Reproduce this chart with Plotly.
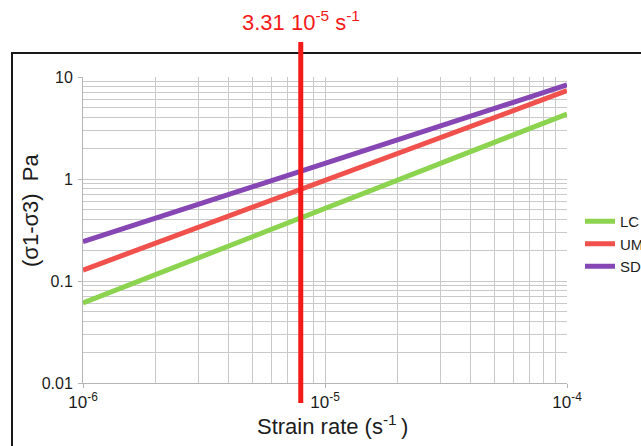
import math
import plotly.graph_objects as go

# ---- data ----
strain_rate = [1e-6, 1e-4]
series_names = ["LC", "UM", "SD"]
lc_stress = [0.061, 4.34]
um_stress = [0.128, 7.34]
sd_stress = [0.243, 8.35]
series_colors = ["#8cd44f", "#f0514c", "#8646b3"]
marker_rate = 7.94e-6           # where the vertical red line is drawn
marker_label = "3.31 10<sup>-5</sup> s<sup>-1</sup>"
x_tick_vals = [1e-6, 1e-5, 1e-4]
x_tick_text = ["10<sup>-6</sup>", "10<sup>-5</sup>", "10<sup>-4</sup>"]
y_tick_vals = [0.01, 0.1, 1, 10]
y_tick_text = ["0.01", "0.1", "1", "10"]
x_range_log = [-6, -4]
y_range_log = [-2, 1]

W, H = 641, 446
L, R, T, B = 83, 74, 77, 63
pw, ph = W - L - R, H - T - B


def px_x(px):
    return (px - L) / pw


def px_y(py):
    return (H - B - py) / ph


marker_xp = (math.log10(marker_rate) - x_range_log[0]) / (x_range_log[1] - x_range_log[0])

minor_x = [m * 10 ** e for e in range(-6, -4) for m in range(2, 10)]
minor_y = [m * 10 ** e for e in range(-2, 1) for m in range(2, 10)]

FONT = "Liberation Sans, Arial, sans-serif"
TXT = "#1c1c1c"
GRID = "#c9c9c9"
RED = "#f41a1a"

fig = go.Figure()
for name, vals, col in zip(series_names, [lc_stress, um_stress, sd_stress], series_colors):
    fig.add_trace(go.Scatter(x=strain_rate, y=vals, mode="lines", name=name,
                             line=dict(color=col, width=5)))

fig.update_layout(
    width=W, height=H,
    margin=dict(l=L, r=R, t=T, b=B, pad=0, autoexpand=False),
    paper_bgcolor="white", plot_bgcolor="white",
    font=dict(family=FONT, color=TXT, size=14),
    showlegend=True,
    legend=dict(x=px_x(580), y=px_y(205), xanchor="left", yanchor="top",
                font=dict(size=15, family=FONT, color=TXT),
                bgcolor="rgba(0,0,0,0)", tracegroupgap=0),
    xaxis=dict(type="log", range=x_range_log, tickmode="array",
               tickvals=x_tick_vals, ticktext=x_tick_text,
               showgrid=True, gridcolor=GRID, gridwidth=1,
               showline=True, linecolor="#b5b5b5", linewidth=1,
               ticks="outside", ticklen=4, tickcolor="#b5b5b5",
               tickfont=dict(size=17, family=FONT, color=TXT),
               minor=dict(tickmode="array", tickvals=minor_x, showgrid=True,
                          gridcolor=GRID, gridwidth=1, ticks=""),
               zeroline=False, mirror=False),
    yaxis=dict(type="log", range=y_range_log, tickmode="array",
               tickvals=y_tick_vals, ticktext=y_tick_text,
               showgrid=True, gridcolor=GRID, gridwidth=1,
               showline=True, linecolor="#b5b5b5", linewidth=1,
               ticks="outside", ticklen=4, tickcolor="#b5b5b5",
               tickfont=dict(size=16, family=FONT, color=TXT),
               ticklabelstandoff=2,
               minor=dict(tickmode="array", tickvals=minor_y, showgrid=True,
                          gridcolor=GRID, gridwidth=1, ticks=""),
               zeroline=False, mirror=False),
    shapes=[
        dict(type="rect", xref="paper", yref="paper",
             x0=px_x(12), x1=px_x(760), y0=px_y(53), y1=px_y(560),
             line=dict(color="#1a1a1a", width=2), fillcolor="rgba(0,0,0,0)",
             layer="below"),
        dict(type="line", xref="paper", yref="paper",
             x0=marker_xp, x1=marker_xp,
             y0=px_y(403), y1=px_y(42),
             line=dict(color=RED, width=5), layer="above"),
    ],
    annotations=[
        dict(text=marker_label, xref="paper", yref="paper",
             x=marker_xp, y=px_y(21), xanchor="center", yanchor="middle",
             showarrow=False, font=dict(size=22, color=RED, family=FONT)),
        dict(text="Strain rate (s<sup>-1 </sup>)", xref="paper", yref="paper",
             x=px_x(332), y=px_y(425), xanchor="center", yanchor="middle",
             showarrow=False, font=dict(size=22, color=TXT, family=FONT)),
        dict(text="(σ1-σ3)  Pa", xref="paper", yref="paper",
             x=px_x(30), y=px_y(210), xanchor="center", yanchor="middle",
             textangle=-90, showarrow=False,
             font=dict(size=22, color=TXT, family=FONT)),
    ],
)

fig.write_html("out.html")
